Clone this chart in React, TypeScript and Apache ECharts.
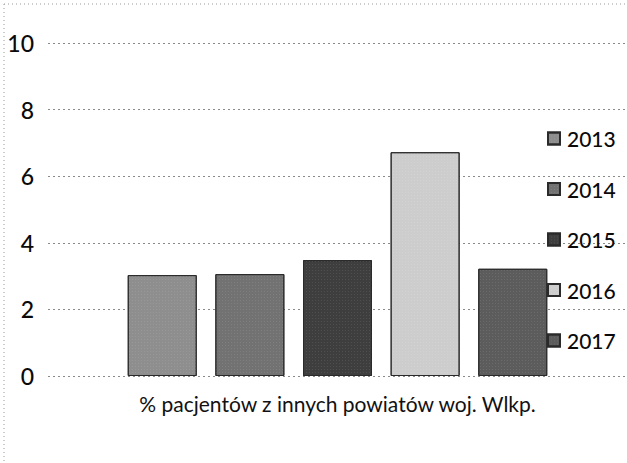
import React, { useEffect, useRef } from "react";
import * as echarts from "echarts";

const categories = ["% pacjentów z innych powiatów woj. Wlkp."];
const years = ["2013", "2014", "2015", "2016", "2017"];
const values2013 = [3.03];
const values2014 = [3.06];
const values2015 = [3.48];
const values2016 = [6.72];
const values2017 = [3.22];
const yTicks = [0, 2, 4, 6, 8, 10];

const seriesValues = [values2013, values2014, values2015, values2016, values2017];
const colors = ["#8e8e8e", "#727272", "#3e3e3e", "#cdcdcd", "#5c5c5c"];

export default function App() {
  const ref = useRef<HTMLDivElement>(null);
  useEffect(() => {
    if (!ref.current) return;
    const chart = echarts.init(ref.current, null, { renderer: "svg" });
    const font = "Lato, 'Open Sans', sans-serif";
    chart.setOption({
      animation: false,
      backgroundColor: "#ffffff",
      textStyle: { fontFamily: font },
      graphic: [
        {
          type: "line",
          shape: { x1: 4, y1: 4, x2: 627, y2: 4 },
          style: { stroke: "#9a9a9a", lineWidth: 1, lineDash: [1, 3] },
        },
        {
          type: "line",
          shape: { x1: 4, y1: 4, x2: 4, y2: 463 },
          style: { stroke: "#9a9a9a", lineWidth: 1, lineDash: [1, 3] },
        },
      ],
      grid: { left: 48, right: 0, top: 43, bottom: 87, containLabel: false },
      legend: {
        orient: "vertical",
        left: 547,
        top: 128,
        padding: 0,
        itemWidth: 12,
        itemHeight: 12,
        itemGap: 29.5,
        icon: "rect",
        data: years,
        textStyle: { fontSize: 21, fontWeight: 500, color: "#0a0a0a", fontFamily: font, padding: [0, 0, 0, 2] },
      },
      xAxis: {
        type: "category",
        data: categories,
        axisLine: { show: false },
        axisTick: { show: false },
        axisLabel: {
          show: true,
          fontSize: 21,
          color: "#111",
          margin: 17,
          fontFamily: font,
        },
      },
      yAxis: {
        type: "value",
        min: 0,
        max: 10,
        interval: 2,
        axisLine: { show: false },
        axisTick: { show: false },
        axisLabel: {
          fontSize: 23,
          fontWeight: 500,
          color: "#0a0a0a",
          margin: 14,
          fontFamily: font,
          formatter: (v: number) => (yTicks.includes(v) ? String(v) : ""),
        },
        splitLine: { lineStyle: { color: "#8a8a8a", type: [2, 3], width: 1 } },
      },
      series: years.map((y, i) => ({
        name: y,
        type: "bar",
        data: seriesValues[i],
        barWidth: 69,
        barGap: "27%",
        itemStyle: {
          color: colors[i],
          borderColor: "#2a2a2a",
          borderWidth: 1,
          decal: {
            symbol: "rect",
            symbolSize: 0.5,
            dashArrayX: [1, 2],
            dashArrayY: [1, 2],
            color: i === 3 ? "rgba(255,255,255,0.5)" : "rgba(255,255,255,0.35)",
            rotation: 0,
          },
        },
      })),
    });
    return () => chart.dispose();
  }, []);
  return (
    <div
      ref={ref}
      style={{ position: "fixed", left: 0, top: 0, width: 627, height: 463 }}
    />
  );
}
